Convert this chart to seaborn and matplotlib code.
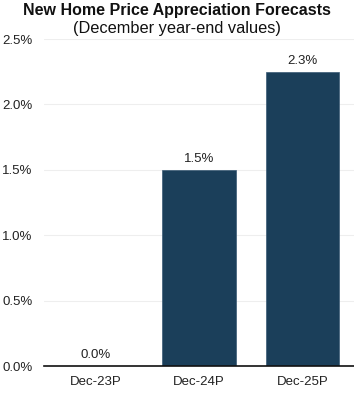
import matplotlib
matplotlib.use('Agg')
import matplotlib.pyplot as plt
import seaborn as sns
import pandas as pd
from matplotlib.ticker import FuncFormatter

# ── Data ──────────────────────────────────────────────────────────────────────
periods = ['Dec-23P', 'Dec-24P', 'Dec-25P']
appreciation = [0.0, 1.5, 2.25]          # percent
bar_labels = ['0.0%', '1.5%', '2.3%']
y_ticks = [0.0, 0.5, 1.0, 1.5, 2.0, 2.5]

# ── Style ─────────────────────────────────────────────────────────────────────
sns.set_theme(style='white')
plt.rcParams['font.family'] = ['Liberation Sans', 'DejaVu Sans']

BAR = '#1b3f5a'
TXT = '#222222'

df = pd.DataFrame({'period': periods, 'value': appreciation})

fig = plt.figure(figsize=(3.54, 3.94), dpi=100)
ax = fig.add_axes([0.124, 0.071, 0.876, 0.830])

sns.barplot(data=df, x='period', y='value', color=BAR, width=0.71,
            saturation=1, edgecolor='#3a5a75', linewidth=0.5, ax=ax)

for i, (v, lab) in enumerate(zip(appreciation, bar_labels)):
    ax.text(i, v + 0.035, lab, ha='center', va='bottom', fontsize=9.5, color=TXT)

ax.set_xlim(-0.5, 2.5)
ax.set_ylim(0, 2.5)
ax.set_yticks(y_ticks)
ax.yaxis.set_major_formatter(FuncFormatter(lambda v, _: f'{v:.1f}%'))
ax.grid(axis='y', color='#eeeeee', linewidth=0.8)
ax.set_axisbelow(True)
ax.set_xlabel('')
ax.set_ylabel('')
ax.tick_params(axis='y', length=0, labelsize=9.5, labelcolor=TXT, pad=8)
ax.tick_params(axis='x', length=0, labelsize=9.5, labelcolor=TXT, pad=7)

for s in ('top', 'right', 'left'):
    ax.spines[s].set_visible(False)
ax.spines['bottom'].set_color('#111111')
ax.spines['bottom'].set_linewidth(1.2)

fig.text(0.5, 0.973, 'New Home Price Appreciation Forecasts', ha='center',
         va='center', fontsize=11.5, fontweight='bold', color='#111111')
fig.text(0.5, 0.927, '(December year-end values)', ha='center',
         va='center', fontsize=11.8, color='#111111')

fig.savefig('out.png', dpi=100)
